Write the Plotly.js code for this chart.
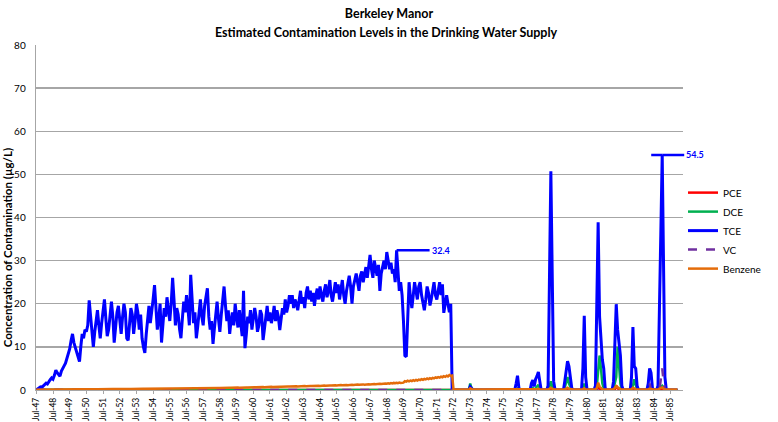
<!DOCTYPE html>
<html>
<head>
<meta charset="utf-8">
<script src="https://cdn.plot.ly/plotly-3.0.1.min.js"></script>
<style>html,body{margin:0;padding:0;background:#fff}#chart{width:778px;height:422px}</style>
</head>
<body>
<div id="chart"></div>
<script>
// Monthly series, starting Jul-1947 (462 months, to Dec-1985)
const startYear = 1947, startMonth = 7, monthCount = 462;
const seriesNames = ['PCE', 'DCE', 'TCE', 'VC', 'Benzene'];
const chartTitle = 'Berkeley Manor';
const chartSubtitle = 'Estimated Contamination Levels in the Drinking Water Supply';
const yTitle = 'Concentration of Contamination (µg/L)';

const TCE = [
 0.0,0.2,0.4,0.7,0.6,1.0,1.3,1.6,1.4,2.0,2.4,2.8,
 2.5,3.4,4.6,4.0,3.5,3.2,4.4,5.2,5.6,6.2,7.2,8.0,
 9.5,11.5,13.0,11.0,10.0,8.5,7.5,6.6,10.0,13.0,12.0,14.0,
 13.5,15.0,20.8,17.0,13.0,10.0,13.5,16.0,18.5,15.0,12.0,15.5,
 19.0,21.0,16.5,12.5,14.0,18.0,20.5,17.0,11.0,14.5,18.0,19.5,
 16.0,13.0,17.0,20.0,18.0,12.0,11.5,15.5,19.0,17.5,13.0,16.0,
 20.0,18.0,14.0,17.5,12.0,10.0,8.6,13.0,17.0,19.5,15.5,18.0,
 21.0,24.3,18.0,14.0,16.5,20.0,11.0,14.5,19.0,17.0,21.5,18.5,
 16.0,20.0,26.0,21.0,15.0,19.0,17.5,14.0,12.0,16.5,20.5,18.0,
 22.0,19.0,15.0,26.7,19.0,15.5,18.0,12.0,14.5,19.0,21.0,17.0,
 15.0,19.5,21.5,23.6,17.0,14.0,16.0,10.7,14.0,18.0,20.5,16.5,
 13.5,17.5,21.0,24.0,19.5,16.0,18.5,13.0,16.0,18.0,15.0,20.0,
 17.0,14.5,18.5,16.0,12.5,23.0,9.7,13.0,17.0,15.5,18.5,14.0,
 16.5,19.0,17.0,13.5,15.0,18.5,17.5,11.6,14.0,17.5,19.5,16.0,
 18.0,15.5,17.0,19.5,16.0,18.5,17.0,13.9,16.5,19.0,17.5,21.0,
 18.0,19.5,22.0,20.0,22.0,19.0,21.0,20.0,18.5,21.5,23.0,20.0,
 21.5,19.0,22.5,24.0,21.0,23.0,20.5,22.5,19.5,22.0,23.5,21.0,
 24.0,22.0,20.5,23.0,24.5,21.5,23.0,25.5,22.0,20.5,23.5,25.0,
 22.5,24.5,21.0,23.0,25.5,22.0,20.0,23.0,25.0,26.5,24.0,20.0,
 24.0,26.0,27.0,25.0,23.0,26.5,27.5,25.0,27.0,28.5,26.0,29.0,
 31.3,28.0,26.0,30.0,28.0,26.5,29.0,23.0,27.0,29.0,30.0,28.0,
 32.0,30.0,28.0,29.5,27.0,28.0,25.0,32.4,28.0,23.0,25.0,22.0,
 16.0,8.0,7.7,18.5,25.0,21.5,19.0,22.0,25.0,23.0,21.0,24.0,
 25.0,22.0,20.0,18.5,21.0,24.0,22.5,19.6,21.0,23.0,25.0,22.0,
 21.0,23.0,25.0,22.0,24.5,17.9,20.5,22.0,20.0,18.0,20.0,0.0,
 0,0,0,0,0,0,0,0,0,0,0,0,
 0.8,0.3,0,0,0,0,0,0,0,0,0,0,
 0,0,0,0,0,0,0,0,0,0,0,0,
 0,0,0,0,0,0,0,0,0,1.5,3.3,0.5,
 0,0,0,0,0,0,0,0,1.5,2.3,0.8,2.5,
 3.2,4.2,2.0,0,0,0,0,0,1.0,30.0,50.7,26.0,
 2.0,0,0,0,0,0,0,0,2.0,4.5,6.7,5.5,
 3.0,0.5,0,0,0,0,0,0,0,5.0,17.2,3.0,
 0,0,0,0,0,0,1.0,21.0,38.9,17.0,12.0,7.0,
 5.0,0.5,0,0,0,0,0,2.0,12.0,19.9,14.0,11.5,
 8.0,1.0,0,0,0,0,0,0,3.0,14.6,5.5,5.0,
 1.0,0,0,0,0,0,0,0,1.5,5.0,4.0,0.5,
 0,0,0,1.0,24.0,36.0,54.5,30.0,3.0,0,0,0,
 0,0,0,0,0,0
];

const Benzene = [
 0.05,0.06,0.05,0.07,0.06,0.08,0.07,0.08,0.09,0.08,0.09,0.10,
 0.09,0.10,0.11,0.10,0.11,0.12,0.11,0.12,0.13,0.12,0.13,0.14,
 0.13,0.14,0.15,0.14,0.15,0.16,0.15,0.16,0.15,0.17,0.16,0.17,
 0.16,0.18,0.17,0.18,0.17,0.19,0.18,0.19,0.18,0.20,0.19,0.20,
 0.19,0.21,0.20,0.21,0.20,0.22,0.21,0.22,0.21,0.23,0.22,0.23,
 0.22,0.24,0.23,0.24,0.23,0.25,0.24,0.25,0.24,0.26,0.25,0.26,
 0.25,0.27,0.26,0.27,0.26,0.28,0.27,0.28,0.27,0.29,0.28,0.29,
 0.28,0.30,0.29,0.30,0.29,0.31,0.30,0.31,0.30,0.32,0.31,0.32,
 0.31,0.33,0.32,0.33,0.32,0.34,0.33,0.35,0.33,0.36,0.34,0.36,
 0.35,0.37,0.36,0.38,0.36,0.39,0.37,0.40,0.38,0.41,0.39,0.42,
 0.40,0.43,0.41,0.44,0.42,0.45,0.43,0.46,0.44,0.47,0.45,0.48,
 0.46,0.49,0.47,0.50,0.48,0.52,0.49,0.53,0.50,0.54,0.52,0.55,
 0.53,0.56,0.54,0.58,0.55,0.59,0.56,0.60,0.58,0.62,0.59,0.63,
 0.61,0.64,0.62,0.66,0.63,0.67,0.65,0.69,0.66,0.70,0.68,0.72,
 0.69,0.73,0.70,0.75,0.72,0.76,0.73,0.78,0.75,0.79,0.76,0.81,
 0.78,0.82,0.79,0.84,0.80,0.85,0.82,0.87,0.83,0.88,0.85,0.90,
 0.86,0.91,0.88,0.93,0.89,0.95,0.91,0.96,0.92,0.98,0.94,0.99,
 0.95,1.01,0.97,1.03,0.98,1.05,1.00,1.06,1.02,1.08,1.03,1.10,
 1.05,1.12,1.07,1.14,1.09,1.16,1.11,1.18,1.12,1.20,1.14,1.22,
 1.16,1.24,1.18,1.26,1.20,1.28,1.22,1.30,1.24,1.32,1.26,1.35,
 1.28,1.37,1.31,1.40,1.33,1.43,1.36,1.46,1.39,1.49,1.42,1.52,
 1.45,1.56,1.48,1.60,1.52,1.64,1.56,1.68,1.60,1.72,1.64,1.76,
 1.70,2.05,1.95,2.15,2.02,2.20,2.08,2.28,2.14,2.34,2.20,2.40,
 2.30,2.50,2.38,2.58,2.45,2.66,2.52,2.74,2.60,2.82,2.68,2.90,
 2.80,3.00,2.88,3.10,2.96,3.20,3.05,3.32,3.15,3.45,3.28,3.35,
 0.1,0.1,0.1,0.1,0.1,0.1,0.1,0.1,0.1,0.1,0.1,0.1,
 0.4,0.15,0.1,0.1,0.1,0.1,0.1,0.1,0.1,0.1,0.1,0.1,
 0.1,0.1,0.1,0.1,0.1,0.1,0.1,0.1,0.1,0.1,0.1,0.1,
 0.1,0.1,0.1,0.1,0.1,0.1,0.1,0.1,0.1,0.1,0.2,0.1,
 0.1,0.1,0.1,0.1,0.1,0.1,0.1,0.1,0.1,0.2,0.1,0.2,
 0.2,0.3,0.1,0.1,0.1,0.1,0.1,0.1,0.1,0.3,0.5,0.3,
 0.1,0.1,0.1,0.1,0.1,0.1,0.1,0.1,0.2,0.3,0.5,0.3,
 0.2,0.1,0.1,0.1,0.1,0.1,0.1,0.1,0.1,0.2,0.4,0.1,
 0.1,0.1,0.1,0.1,0.1,0.1,0.1,0.5,1.7,0.8,0.4,0.2,
 0.1,0.1,0.1,0.1,0.1,0.1,0.1,0.2,0.5,0.9,0.6,0.3,
 0.2,0.1,0.1,0.1,0.1,0.1,0.1,0.1,0.2,0.5,0.3,0.2,
 0.1,0.1,0.1,0.1,0.1,0.1,0.1,0.1,0.2,0.3,0.2,0.1,
 0.1,0.1,0.1,0.1,0.3,0.4,0.6,0.3,0.1,0.1,0.1,0.1,
 0.1,0.1,0.1,0.1,0.1,0.1
];

const DCE = [
 0.05,0.05,0.05,0.05,0.05,0.05,0.05,0.05,0.05,0.05,0.05,0.05,
 0.05,0.05,0.05,0.05,0.05,0.05,0.05,0.05,0.05,0.05,0.05,0.05,
 0.05,0.05,0.05,0.05,0.05,0.05,0.05,0.05,0.05,0.05,0.05,0.05,
 0.05,0.05,0.05,0.05,0.05,0.05,0.05,0.05,0.05,0.05,0.05,0.05,
 0.05,0.05,0.05,0.05,0.05,0.05,0.05,0.05,0.05,0.05,0.05,0.05,
 0.08,0.08,0.08,0.08,0.08,0.08,0.08,0.08,0.08,0.08,0.08,0.08,
 0.08,0.08,0.08,0.08,0.08,0.08,0.08,0.08,0.08,0.08,0.08,0.08,
 0.08,0.08,0.08,0.08,0.08,0.08,0.08,0.08,0.08,0.08,0.08,0.08,
 0.08,0.08,0.08,0.08,0.08,0.08,0.08,0.08,0.08,0.08,0.08,0.08,
 0.08,0.08,0.08,0.08,0.08,0.08,0.08,0.08,0.08,0.08,0.08,0.08,
 0.1,0.1,0.1,0.1,0.1,0.1,0.1,0.1,0.1,0.1,0.1,0.1,
 0.1,0.1,0.1,0.1,0.1,0.1,0.1,0.1,0.1,0.1,0.1,0.1,
 0.1,0.1,0.1,0.1,0.1,0.1,0.1,0.1,0.1,0.1,0.1,0.1,
 0.1,0.1,0.1,0.1,0.1,0.1,0.1,0.1,0.1,0.1,0.1,0.1,
 0.1,0.1,0.1,0.1,0.1,0.1,0.1,0.1,0.1,0.1,0.1,0.1,
 0.15,0.15,0.15,0.15,0.15,0.15,0.15,0.15,0.15,0.15,0.15,0.15,
 0.15,0.15,0.15,0.15,0.15,0.15,0.15,0.15,0.15,0.15,0.15,0.15,
 0.15,0.15,0.15,0.15,0.15,0.15,0.15,0.15,0.15,0.15,0.15,0.15,
 0.15,0.15,0.15,0.15,0.15,0.15,0.15,0.15,0.15,0.15,0.15,0.15,
 0.15,0.15,0.15,0.15,0.15,0.15,0.15,0.15,0.15,0.15,0.15,0.15,
 0.15,0.15,0.15,0.15,0.15,0.15,0.15,0.15,0.15,0.15,0.15,0.15,
 0.15,0.15,0.15,0.15,0.15,0.15,0.15,0.15,0.15,0.15,0.15,0.15,
 0.15,0.15,0.15,0.15,0.15,0.15,0.15,0.15,0.15,0.15,0.15,0.15,
 0.15,0.15,0.15,0.15,0.15,0.15,0.15,0.15,0.15,0.15,0.15,0.15,
 0.15,0.15,0.15,0.15,0.15,0.15,0.15,0.15,0.15,0.15,0.15,0.1,
 0,0,0,0,0,0,0,0,0,0,0,0,
 1.5,0.3,0,0,0,0,0,0,0,0,0,0,
 0,0,0,0,0,0,0,0,0,0,0,0,
 0,0,0,0,0,0,0,0,0,0,0.3,0,
 0,0,0,0,0,0,0,0,0.3,0.5,0,0.5,
 1.0,1.2,0.3,0,0,0,0,0,0,0.8,2.0,0.8,
 0,0,0,0,0,0,0,0,0.5,1.5,3.0,1.5,
 0.5,0,0,0,0,0,0,0,0,0.5,1.5,0.3,
 0,0,0,0,0,0,0,1.0,4.0,8.0,5.0,1.5,
 0.5,0,0,0,0,0,0,0.3,2.0,3.0,10.0,5.0,
 1.5,0,0,0,0,0,0,0,0.3,1.0,2.5,1.0,
 0,0,0,0,0,0,0,0,0.3,0.5,0.3,0,
 0,0,0,0,0.5,0.8,1.0,0.5,0,0,0,0,
 0,0,0,0,0,0
];

const PCE = [
 0.02,0.02,0.02,0.02,0.02,0.02,0.02,0.02,0.02,0.02,0.02,0.02,
 0.02,0.02,0.02,0.02,0.02,0.02,0.02,0.02,0.02,0.02,0.02,0.02,
 0.02,0.02,0.02,0.02,0.02,0.02,0.02,0.02,0.02,0.02,0.02,0.02,
 0.02,0.02,0.02,0.02,0.02,0.02,0.02,0.02,0.02,0.02,0.02,0.02,
 0.02,0.02,0.02,0.02,0.02,0.02,0.02,0.02,0.02,0.02,0.02,0.02,
 0.02,0.02,0.02,0.02,0.02,0.02,0.02,0.02,0.02,0.02,0.02,0.02,
 0.02,0.02,0.02,0.02,0.02,0.02,0.02,0.02,0.02,0.02,0.02,0.02,
 0.02,0.02,0.02,0.02,0.02,0.02,0.02,0.02,0.02,0.02,0.02,0.02,
 0.02,0.02,0.02,0.02,0.02,0.02,0.02,0.02,0.02,0.02,0.02,0.02,
 0.02,0.02,0.02,0.02,0.02,0.02,0.02,0.02,0.02,0.02,0.02,0.02,
 0.02,0.02,0.02,0.02,0.02,0.02,0.02,0.02,0.02,0.02,0.02,0.02,
 0.02,0.02,0.02,0.02,0.02,0.02,0.02,0.02,0.02,0.02,0.02,0.02,
 0.02,0.02,0.02,0.02,0.02,0.02,0.02,0.02,0.02,0.02,0.02,0.02,
 0.02,0.02,0.02,0.02,0.02,0.02,0.02,0.02,0.02,0.02,0.02,0.02,
 0.02,0.02,0.02,0.02,0.02,0.02,0.02,0.02,0.02,0.02,0.02,0.02,
 0.02,0.02,0.02,0.02,0.02,0.02,0.02,0.02,0.02,0.02,0.02,0.02,
 0.02,0.02,0.02,0.02,0.02,0.02,0.02,0.02,0.02,0.02,0.02,0.02,
 0.02,0.02,0.02,0.02,0.02,0.02,0.02,0.02,0.02,0.02,0.02,0.02,
 0.02,0.02,0.02,0.02,0.02,0.02,0.02,0.02,0.02,0.02,0.02,0.02,
 0.02,0.02,0.02,0.02,0.02,0.02,0.02,0.02,0.02,0.02,0.02,0.02,
 0.02,0.02,0.02,0.02,0.02,0.02,0.02,0.02,0.02,0.02,0.02,0.02,
 0.02,0.02,0.02,0.02,0.02,0.02,0.02,0.02,0.02,0.02,0.02,0.02,
 0.02,0.02,0.02,0.02,0.02,0.02,0.02,0.02,0.02,0.02,0.02,0.02,
 0.02,0.02,0.02,0.02,0.02,0.02,0.02,0.02,0.02,0.02,0.02,0.02,
 0.02,0.02,0.02,0.02,0.02,0.02,0.02,0.02,0.02,0.02,0.02,0.02,
 0,0,0,0,0,0,0,0,0,0,0,0,
 0,0,0,0,0,0,0,0,0,0,0,0,
 0,0,0,0,0,0,0,0,0,0,0,0,
 0,0,0,0,0,0,0,0,0,0,0,0,
 0,0,0,0,0,0,0,0,0,0,0,0,
 0,0,0,0,0,0,0,0,0,0,0,0,
 0,0,0,0,0,0,0,0,0,0,0.3,0,
 0,0,0,0,0,0,0,0,0,0,0,0,
 0,0,0,0,0,0,0,0,0.8,0.4,0,0,
 0,0,0,0,0,0,0,0,0,1.0,0.5,0,
 0,0,0,0,0,0,0,0,0,0.3,0,0,
 0,0,0,0,0,0,0,0,0,0,0,0,
 0,0,0,0,0,0,0.3,0,0,0,0,0,
 0,0,0,0,0,0
];

const VC = [
 0.04,0.04,0.04,0.04,0.04,0.04,0.04,0.04,0.04,0.04,0.04,0.04,
 0.04,0.04,0.04,0.04,0.04,0.04,0.04,0.04,0.04,0.04,0.04,0.04,
 0.04,0.04,0.04,0.04,0.04,0.04,0.04,0.04,0.04,0.04,0.04,0.04,
 0.04,0.04,0.04,0.04,0.04,0.04,0.04,0.04,0.04,0.04,0.04,0.04,
 0.04,0.04,0.04,0.04,0.04,0.04,0.04,0.04,0.04,0.04,0.04,0.04,
 0.04,0.04,0.04,0.04,0.04,0.04,0.04,0.04,0.04,0.04,0.04,0.04,
 0.04,0.04,0.04,0.04,0.04,0.04,0.04,0.04,0.04,0.04,0.04,0.04,
 0.04,0.04,0.04,0.04,0.04,0.04,0.04,0.04,0.04,0.04,0.04,0.04,
 0.04,0.04,0.04,0.04,0.04,0.04,0.04,0.04,0.04,0.04,0.04,0.04,
 0.04,0.04,0.04,0.04,0.04,0.04,0.04,0.04,0.04,0.04,0.04,0.04,
 0.04,0.04,0.04,0.04,0.04,0.04,0.04,0.04,0.04,0.04,0.04,0.04,
 0.04,0.04,0.04,0.04,0.04,0.04,0.04,0.04,0.04,0.04,0.04,0.04,
 0.04,0.04,0.04,0.04,0.04,0.04,0.04,0.04,0.04,0.04,0.04,0.04,
 0.04,0.04,0.04,0.04,0.04,0.04,0.04,0.04,0.04,0.04,0.04,0.04,
 0.04,0.04,0.04,0.04,0.04,0.04,0.04,0.04,0.04,0.04,0.04,0.04,
 0.04,0.04,0.04,0.04,0.04,0.04,0.04,0.04,0.04,0.04,0.04,0.04,
 0.04,0.04,0.04,0.04,0.04,0.04,0.04,0.04,0.04,0.04,0.04,0.04,
 0.04,0.04,0.04,0.04,0.04,0.04,0.04,0.04,0.04,0.04,0.04,0.04,
 0.04,0.04,0.04,0.04,0.04,0.04,0.04,0.04,0.04,0.04,0.04,0.04,
 0.04,0.04,0.04,0.04,0.04,0.04,0.04,0.04,0.04,0.04,0.04,0.04,
 0.04,0.04,0.04,0.04,0.04,0.04,0.04,0.04,0.04,0.04,0.04,0.04,
 0.04,0.04,0.04,0.04,0.04,0.04,0.04,0.04,0.04,0.04,0.04,0.04,
 0.04,0.04,0.04,0.04,0.04,0.04,0.04,0.04,0.04,0.04,0.04,0.04,
 0.04,0.04,0.04,0.04,0.04,0.04,0.04,0.04,0.04,0.04,0.04,0.04,
 0.04,0.04,0.04,0.04,0.04,0.04,0.04,0.04,0.04,0.04,0.04,0.04,
 0,0,0,0,0,0,0,0,0,0,0,0,
 0,0,0,0,0,0,0,0,0,0,0,0,
 0,0,0,0,0,0,0,0,0,0,0,0,
 0,0,0,0,0,0,0,0,0,0,0,0,
 0,0,0,0,0,0,0,0,0,0,0,0,
 0,0,0,0,0,0,0,0,0,0,0.8,0,
 0,0,0,0,0,0,0,0,0,0,0,0,
 0,0,0,0,0,0,0,0,0,0,0,0,
 0,0,0,0,0,0,0,0,0.5,0,0,0,
 0,0,0,0,0,0,0,0,0,0.8,0,0,
 0,0,0,0,0,0,0,0,0,0,0,0,
 0,0,0,0,0,0,0,0,0,1.5,0,0,
 0,0,0,0,0,2.5,5.0,2.0,0,0,0,0,
 0,0,0,0,0,0
];

// month categories (axis positions), built from the start month
const months = [];
for (let i = 0; i < monthCount; i++) {
  const t = startMonth - 1 + i;
  const y = startYear + Math.floor(t / 12);
  const m = (t % 12) + 1;
  months.push(y + '-' + (m < 10 ? '0' : '') + m + '-01');
}

const colors = {PCE: '#ff0000', DCE: '#00b050', TCE: '#0000ff', VC: '#7030a0', Benzene: '#e46c0a'};
const values = {PCE, DCE, TCE, VC, Benzene};
const FONT = 'Lato, "Liberation Sans", Arial, sans-serif';

const traces = seriesNames.map(n => ({
  type: 'scatter', mode: 'lines', name: n,
  x: months, y: values[n],
  line: {color: colors[n], width: n === 'TCE' ? 3 : 2.5, dash: n === 'VC' ? 'dash' : 'solid'},
  legendgroup: n
}));

// data labels: early max (before the 1972 shutdown) and overall max of TCE
function argmaxRange(arr, a, b) { let k = a; for (let i = a; i < b; i++) if (arr[i] > arr[k]) k = i; return k; }
const cut = months.indexOf('1972-07-01');
const p1 = argmaxRange(TCE, 0, cut);
const p2 = argmaxRange(TCE, cut, TCE.length);

const layout = {
  width: 778, height: 422,
  margin: {l: 36, r: 90, t: 45, b: 32},
  paper_bgcolor: '#ffffff', plot_bgcolor: '#ffffff',
  font: {family: FONT, size: 9, color: '#000000'},
  title: {text: '<b>' + chartTitle + '</b>', font: {family: FONT, size: 12.5, color: '#000'},
          xref: 'container', x: 0.5, xanchor: 'center', yref: 'container', y: 1 - 14/422, yanchor: 'middle'},
  showlegend: true,
  legend: {x: 1.0, xanchor: 'left', y: 0.462, yanchor: 'middle', font: {family: FONT, size: 10, color: '#000'},
           bgcolor: 'rgba(0,0,0,0)', tracegroupgap: 0, itemwidth: 30},
  xaxis: {
    type: 'date', range: ['1947-06-25', '1986-04-01'],
    tick0: '1947-07-01', dtick: 'M12', tickformat: '%b-%y', tickangle: -90,
    ticks: 'outside', ticklen: 3, tickcolor: '#a6a6a6', tickwidth: 1,
    showline: true, linecolor: '#a6a6a6', linewidth: 1.3, showgrid: false, zeroline: false,
    tickfont: {family: FONT, size: 8.5, color: '#000'}, automargin: false, fixedrange: true
  },
  yaxis: {
    range: [0, 80], dtick: 10, tick0: 0,
    showgrid: true, gridcolor: '#a6a6a6', gridwidth: 1.3,
    showline: true, linecolor: '#a6a6a6', linewidth: 1.3, zeroline: false, ticks: '',
    ticklabelstandoff: 7,
    tickfont: {family: FONT, size: 10, color: '#000'},
    automargin: false, fixedrange: true
  },
  annotations: [
    {xref: 'paper', yref: 'paper', x: (389 - 36) / 652, y: (390 - 33) / 345, xanchor: 'center', yanchor: 'middle',
     text: '<b>' + chartSubtitle + '</b>', showarrow: false, font: {family: FONT, size: 12.5, color: '#000'}},
    {xref: 'paper', yref: 'paper', x: (7 - 36) / 652, y: (390 - 248) / 345, xanchor: 'center', yanchor: 'middle',
     textangle: -90, text: '<b>' + yTitle + '</b>', showarrow: false, font: {family: FONT, size: 11.5, color: '#000'}},
    {x: months[p1], y: TCE[p1], xref: 'x', yref: 'y', text: '<b>' + TCE[p1].toFixed(1) + '</b>',
     showarrow: true, arrowhead: 0, arrowwidth: 2.5, arrowcolor: '#0000ff', ax: 33, ay: 0, xanchor: 'left',
     font: {family: FONT, size: 9, color: '#0000ff'}},
    {x: months[p2], y: TCE[p2], xref: 'x', yref: 'y', text: ' ',
     showarrow: true, arrowhead: 0, arrowwidth: 2.5, arrowcolor: '#0000ff', ax: -11, ay: 0, xanchor: 'right',
     font: {family: FONT, size: 9, color: '#0000ff'}},
    {x: months[p2], y: TCE[p2], xref: 'x', yref: 'y', text: '<b>' + TCE[p2].toFixed(1) + '</b>',
     showarrow: true, arrowhead: 0, arrowwidth: 2.5, arrowcolor: '#0000ff', ax: 22, ay: 0, xanchor: 'left',
     font: {family: FONT, size: 9, color: '#0000ff'}}
  ]
};

Plotly.newPlot('chart', traces, layout, {staticPlot: true, displayModeBar: false});
</script>
</body>
</html>
